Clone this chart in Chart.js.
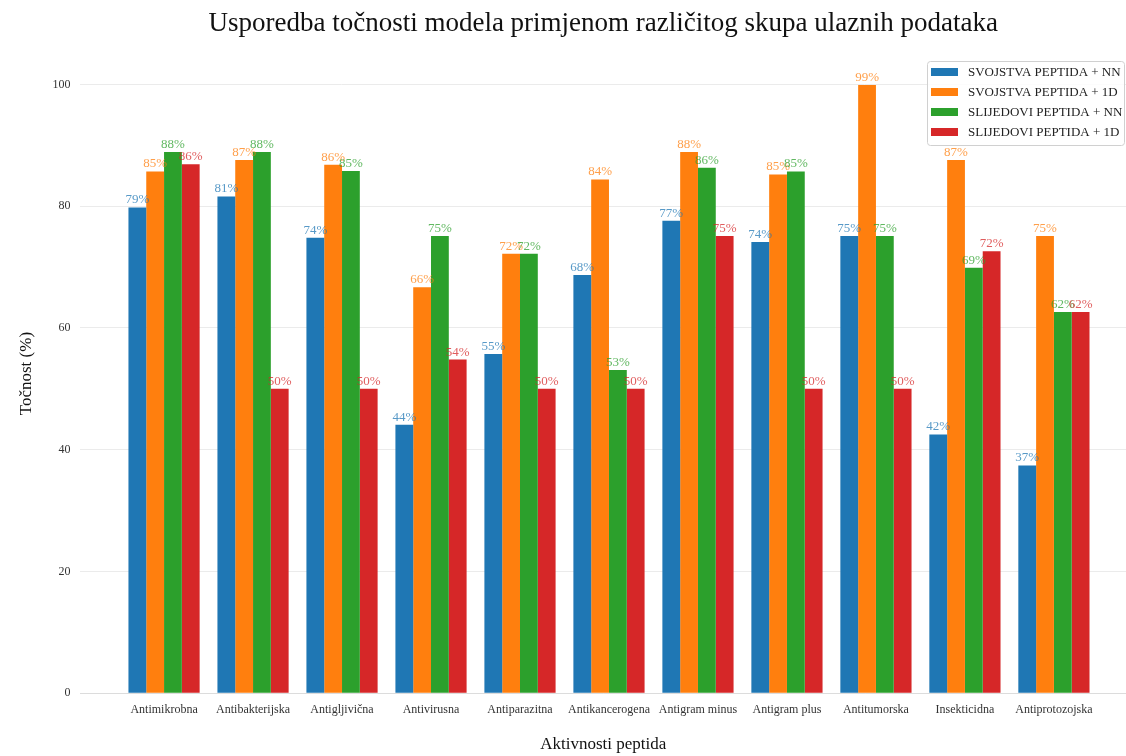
<!DOCTYPE html>
<html>
<head>
<meta charset="utf-8">
<script src="https://cdn.jsdelivr.net/npm/chart.js@4"></script>
<style>
  html, body { margin: 0; padding: 0; background: #fff; }
  #wrap { width: 1126px; height: 756px; position: relative; }
</style>
</head>
<body>
<div id="wrap"><canvas id="accChart"></canvas></div>
<script>
const categories = ['Antimikrobna', 'Antibakterijska', 'Antigljivična', 'Antivirusna', 'Antiparazitna',
    'Antikancerogena', 'Antigram minus', 'Antigram plus', 'Antitumorska', 'Insekticidna', 'Antiprotozojska'];
const svojstvaNN = [79.8, 81.6, 74.8, 44.1, 55.7, 68.7, 77.6, 74.1, 75.1, 42.5, 37.4];
const svojstva1D = [85.7, 87.6, 86.8, 66.7, 72.2, 84.4, 88.9, 85.2, 99.9, 87.6, 75.1];
const slijedoviNN = [88.9, 88.9, 85.8, 75.1, 72.2, 53.1, 86.3, 85.7, 75.1, 69.9, 62.6];
const slijedovi1D = [86.9, 50.0, 50.0, 54.8, 50.0, 50.0, 75.1, 50.0, 50.0, 72.6, 62.6];
const seriesNames = ['SVOJSTVA PEPTIDA + NN', 'SVOJSTVA PEPTIDA + 1D', 'SLIJEDOVI PEPTIDA + NN', 'SLIJEDOVI PEPTIDA + 1D'];
const yTicks = [0, 20, 40, 60, 80, 100];
const chartTitle = 'Usporedba točnosti modela primjenom različitog skupa ulaznih podataka';

const serif = '"Liberation Serif", "DejaVu Serif", serif';
const colors = ['#1f77b4', '#ff7f0e', '#2ca02c', '#d62728'];
const labelColors = ['rgba(31,119,180,0.75)', 'rgba(255,127,14,0.75)', 'rgba(44,160,44,0.75)', 'rgba(214,39,40,0.75)'];

const toPoints = arr => arr.map((v, i) => ({ x: i, y: v }));

// value labels above bars (floored, like the original)
const barLabels = {
    id: 'barLabels',
    afterDatasetsDraw(chart) {
        const ctx = chart.ctx;
        ctx.save();
        ctx.font = '13px ' + serif;
        ctx.textAlign = 'center';
        ctx.textBaseline = 'bottom';
        chart.data.datasets.forEach((ds, di) => {
            chart.getDatasetMeta(di).data.forEach((bar, i) => {
                ctx.fillStyle = labelColors[di];
                ctx.fillText(Math.floor(ds.data[i].y) + '%', bar.x, bar.y - 1);
            });
        });
        ctx.restore();
    }
};

// title centred over the plot area (not the whole canvas)
const axesTitle = {
    id: 'axesTitle',
    afterDraw(chart) {
        const ctx = chart.ctx, a = chart.chartArea;
        ctx.save();
        ctx.font = '27px ' + serif;
        ctx.fillStyle = '#111';
        ctx.textAlign = 'center';
        ctx.textBaseline = 'middle';
        ctx.fillText(chartTitle, (a.left + a.right) / 2, 24);
        ctx.restore();
    }
};

// matplotlib-style legend box in upper right
const boxLegend = {
    id: 'boxLegend',
    afterDraw(chart) {
        const ctx = chart.ctx;
        const x = 927, y = 61, w = 197, h = 84;
        ctx.save();
        ctx.fillStyle = 'rgba(255,255,255,0.85)';
        ctx.strokeStyle = '#d0d0d0';
        ctx.lineWidth = 1;
        ctx.beginPath();
        ctx.roundRect(x + 0.5, y + 0.5, w, h, 3);
        ctx.fill();
        ctx.stroke();
        ctx.font = '13px ' + serif;
        ctx.textBaseline = 'middle';
        chart.data.datasets.forEach((ds, di) => {
            const cy = y + 11 + di * 20;
            ctx.fillStyle = colors[di];
            ctx.fillRect(x + 4, cy - 4, 27, 8);
            ctx.fillStyle = '#222';
            ctx.fillText(ds.label, x + 41, cy + 1);
        });
        ctx.restore();
    }
};

new Chart(document.getElementById('accChart').getContext('2d'), {
    type: 'bar',
    data: {
        datasets: [
            { label: seriesNames[0], data: toPoints(svojstvaNN), backgroundColor: colors[0] },
            { label: seriesNames[1], data: toPoints(svojstva1D), backgroundColor: colors[1] },
            { label: seriesNames[2], data: toPoints(slijedoviNN), backgroundColor: colors[2] },
            { label: seriesNames[3], data: toPoints(slijedovi1D), backgroundColor: colors[3] }
        ]
    },
    options: {
        responsive: true,
        maintainAspectRatio: false,
        animation: false,
        categoryPercentage: 0.8,
        barPercentage: 1.0,
        layout: { padding: { left: 16, right: 0, top: 54, bottom: 1 } },
        plugins: {
            legend: { display: false },
            tooltip: { enabled: false },
            title: { display: false }
        },
        scales: {
            x: {
                type: 'linear',
                min: -0.94,
                max: 10.81,
                offset: false,
                grid: { display: false },
                border: { display: true, color: '#dcdcdc' },
                ticks: {
                    stepSize: 1,
                    autoSkip: false,
                    maxRotation: 0,
                    includeBounds: false,
                    color: '#333',
                    padding: 1,
                    font: { family: serif, size: 12 },
                    callback: v => {
                        const i = Math.round(v);
                        return Math.abs(v - i) < 1e-6 && categories[i] ? categories[i] : '';
                    }
                },
                title: {
                    display: true,
                    text: 'Aktivnosti peptida',
                    color: '#111',
                    font: { family: serif, size: 17 },
                    padding: { top: 17, bottom: 0 }
                }
            },
            y: {
                min: 0,
                max: 105,
                grid: { color: '#ebebeb', drawTicks: false },
                border: { display: false },
                afterBuildTicks: scale => { scale.ticks = yTicks.map(v => ({ value: v })); },
                ticks: {
                    color: '#333',
                    padding: 10,
                    font: { family: serif, size: 12 }
                },
                title: {
                    display: true,
                    text: 'Točnost (%)',
                    color: '#111',
                    font: { family: serif, size: 17 },
                    padding: { top: 0, bottom: 6 }
                }
            }
        }
    },
    plugins: [barLabels, axesTitle, boxLegend]
});
</script>
</body>
</html>
